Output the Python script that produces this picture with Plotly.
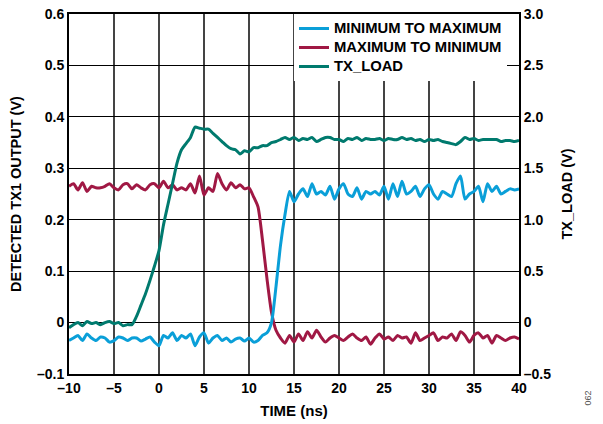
import plotly.graph_objects as go

time_ns = [i * 0.5 - 10 for i in range(101)]

min_to_max = [
    -0.035, -0.03, -0.025, -0.035, -0.022, -0.03, -0.035, -0.028, -0.03, -0.038,
    -0.035, -0.028, -0.03, -0.035, -0.03, -0.03, -0.036, -0.032, -0.028, -0.038,
    -0.045, -0.025, -0.03, -0.02, -0.035, -0.025, -0.03, -0.022, -0.045, -0.028,
    -0.02, -0.04, -0.03, -0.025, -0.035, -0.03, -0.038, -0.032, -0.03, -0.036,
    -0.03, -0.038, -0.035, -0.025, -0.02, 0.0, 0.07, 0.15, 0.21, 0.255,
    0.235, 0.25, 0.26, 0.245, 0.27, 0.25, 0.255, 0.248, 0.265, 0.24,
    0.26, 0.27, 0.25, 0.245, 0.262, 0.24, 0.255, 0.25, 0.255, 0.248,
    0.265, 0.24, 0.27, 0.245, 0.275, 0.25, 0.255, 0.265, 0.245, 0.26,
    0.268, 0.25, 0.24, 0.255, 0.25, 0.245, 0.27, 0.285, 0.24, 0.25,
    0.255, 0.265, 0.235, 0.27, 0.255, 0.265, 0.25, 0.255, 0.26, 0.258,
    0.26,
]

max_to_min = [
    0.265, 0.27, 0.258, 0.272, 0.255, 0.265, 0.262, 0.262, 0.265, 0.27,
    0.262, 0.258, 0.268, 0.27, 0.26, 0.268, 0.262, 0.258, 0.268, 0.27,
    0.262, 0.275, 0.262, 0.268, 0.258, 0.262, 0.258, 0.27, 0.252, 0.285,
    0.248, 0.262, 0.255, 0.29, 0.27, 0.258, 0.272, 0.262, 0.268, 0.26,
    0.262, 0.245, 0.225, 0.16, 0.085, 0.02, -0.015, -0.03, -0.04, -0.025,
    -0.038, -0.022, -0.035, -0.018, -0.03, -0.015, -0.028, -0.038, -0.03, -0.025,
    -0.03, -0.035, -0.028, -0.022, -0.03, -0.035, -0.028, -0.042, -0.03, -0.022,
    -0.032, -0.028, -0.035, -0.025, -0.03, -0.028, -0.04, -0.02, -0.035, -0.03,
    -0.025, -0.02, -0.035, -0.028, -0.03, -0.022, -0.035, -0.018, -0.025, -0.038,
    -0.025, -0.02, -0.03, -0.025, -0.04, -0.025, -0.03, -0.035, -0.03, -0.028,
    -0.032,
]

tx_load = [
    -0.05, -0.02, 0.0, -0.03, 0.01, -0.01, 0.0, -0.02, 0.0, 0.01,
    -0.01, 0.0, -0.03, -0.02, -0.02, 0.06, 0.17, 0.28, 0.41, 0.55,
    0.70, 0.95, 1.15, 1.35, 1.55, 1.68, 1.74, 1.80, 1.90, 1.89,
    1.88, 1.88, 1.84, 1.80, 1.76, 1.72, 1.69, 1.68, 1.64, 1.67,
    1.66, 1.70, 1.70, 1.72, 1.72, 1.75, 1.76, 1.78, 1.80, 1.78,
    1.80, 1.77, 1.79, 1.78, 1.80, 1.76, 1.78, 1.80, 1.80, 1.78,
    1.78, 1.76, 1.79, 1.78, 1.80, 1.77, 1.79, 1.78, 1.78, 1.79,
    1.77, 1.79, 1.78, 1.78, 1.80, 1.78, 1.79, 1.77, 1.78, 1.76,
    1.78, 1.77, 1.78, 1.76, 1.75, 1.74, 1.73, 1.76, 1.80, 1.78,
    1.79, 1.77, 1.78, 1.78, 1.78, 1.78, 1.76, 1.77, 1.77, 1.76,
    1.77,
]

x_ticks = [-10, -5, 0, 5, 10, 15, 20, 25, 30, 35, 40]
x_ticktext = ["–10", "–5", "0", "5", "10", "15", "20", "25", "30", "35", "40"]
y_ticks = [-0.1, 0, 0.1, 0.2, 0.3, 0.4, 0.5, 0.6]
y_ticktext = ["–0.1", "0", "0.1", "0.2", "0.3", "0.4", "0.5", "0.6"]
y2_ticks = [-0.5, 0, 0.5, 1.0, 1.5, 2.0, 2.5, 3.0]
y2_ticktext = ["–0.5", "0", "0.5", "1.0", "1.5", "2.0", "2.5", "3.0"]

BLUE = "#0A9FD8"
RED = "#A01844"
GREEN = "#007A6E"
FONT = "Liberation Sans"
TICKFONT = dict(family=FONT, size=14, color="black", weight="bold")
TITLEFONT = dict(family=FONT, size=14.5, color="black")


def legend_name(s):
    return '<span style="font-size:14.8px"><b>' + s + '</b></span>'


fig = go.Figure()
fig.add_trace(go.Scatter(x=time_ns, y=max_to_min, mode="lines", name=legend_name("MAXIMUM TO MINIMUM"),
                         line=dict(color=RED, width=3, shape="spline", smoothing=0.6), legendrank=2))
fig.add_trace(go.Scatter(x=time_ns, y=min_to_max, mode="lines", name=legend_name("MINIMUM TO MAXIMUM"),
                         line=dict(color=BLUE, width=3, shape="spline", smoothing=0.6), legendrank=1))
fig.add_trace(go.Scatter(x=time_ns, y=tx_load, mode="lines", name=legend_name("TX_LOAD"), yaxis="y2",
                         line=dict(color=GREEN, width=3, shape="spline", smoothing=0.6), legendrank=3))

fig.update_layout(
    width=603, height=424,
    margin=dict(l=69, r=84, t=14, b=50, autoexpand=False),
    paper_bgcolor="white", plot_bgcolor="white",
    font=dict(family=FONT, size=14, color="black"),
    showlegend=True,
    legend=dict(x=0.5, y=1, xanchor="left", yanchor="top", bgcolor="white",
                font=dict(family=FONT, size=12.2, color="black"),
                tracegroupgap=0, borderwidth=0, itemwidth=30),
    xaxis=dict(range=[-10, 40], tickvals=x_ticks, ticktext=x_ticktext,
               showgrid=True, gridcolor="#444444", gridwidth=2,
               showline=True, linecolor="black", linewidth=2, mirror=True,
               zeroline=False, ticks="", automargin=False, ticklabeloverflow="allow",
               tickfont=TICKFONT,
               title=dict(text="<b>TIME (ns)</b>", font=dict(family=FONT, size=15, color="black"), standoff=11)),
    yaxis=dict(range=[-0.1, 0.6], tickvals=y_ticks, ticktext=y_ticktext,
               showgrid=True, gridcolor="black", gridwidth=1.3,
               showline=True, linecolor="black", linewidth=2,
               zeroline=False, ticks="", automargin=False, ticklabeloverflow="allow",
               tickfont=TICKFONT,
               title=dict(text="<b>DETECTED TX1 OUTPUT (V)</b>", font=TITLEFONT, standoff=12)),
    yaxis2=dict(range=[-0.5, 3.0], tickvals=y2_ticks, ticktext=y2_ticktext,
                overlaying="y", side="right", showgrid=False,
                showline=True, linecolor="black", linewidth=2,
                zeroline=False, ticks="", automargin=False, ticklabeloverflow="allow",
                tickfont=TICKFONT,
                title=dict(text="<b>TX_LOAD (V)</b>", font=TITLEFONT, standoff=12)),
)

fig.add_annotation(text="062", xref="paper", yref="paper",
                   x=(594 - 69) / 450, y=(374 - 408) / 360, showarrow=False,
                   textangle=-90, font=dict(family=FONT, size=9, color="#555555"))

# remove the default 8px page margin so the 603x424 figure fills the window exactly
fig.write_html("out.html", config={"displayModeBar": False},
               post_script="document.body.style.margin='0';document.body.style.overflow='hidden';")
